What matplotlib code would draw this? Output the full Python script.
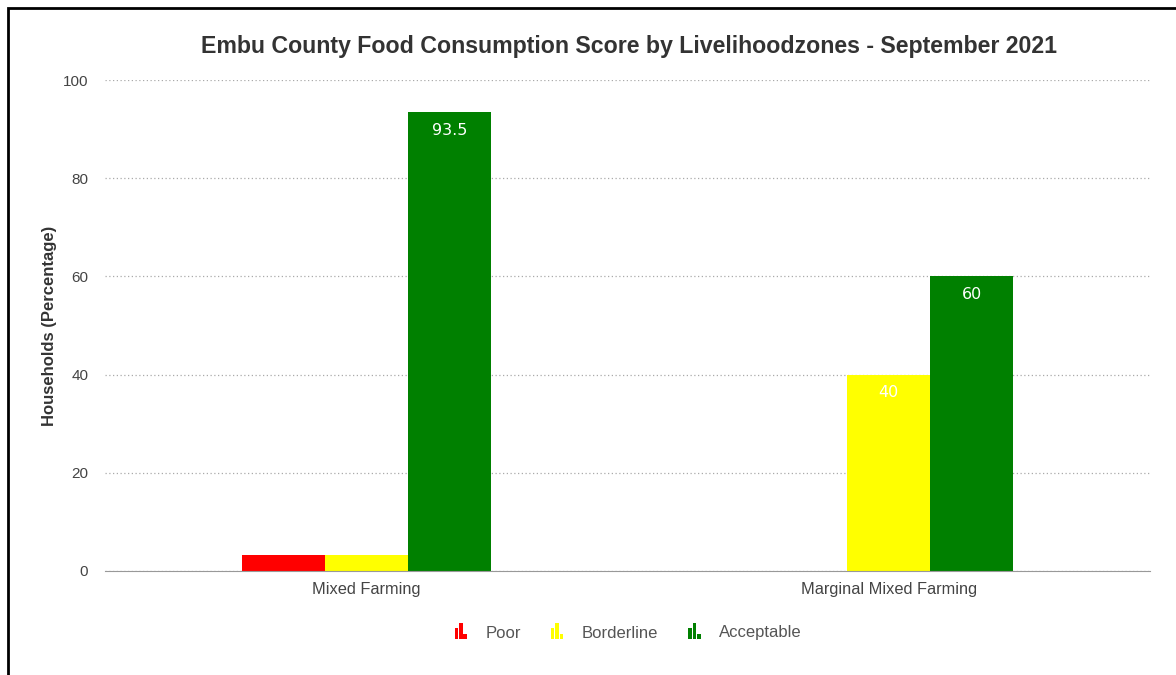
import matplotlib.pyplot as plt
import numpy as np
from matplotlib.legend_handler import HandlerBase
from matplotlib.patches import Rectangle


zones = ["Mixed Farming", "Marginal Mixed Farming"]
series = ["Poor", "Borderline", "Acceptable"]
poor = [3.25, 0]
borderline = [3.25, 40]
acceptable = [93.5, 60]
colors = ["#ff0000", "#ffff00", "#008000"]
# only these bars got a value label in the original
shown_labels = {("Acceptable", 0), ("Acceptable", 1), ("Borderline", 1)}

plt.rcParams["font.family"] = ["Liberation Sans", "DejaVu Sans"]


# small "bar chart" icon like the original legend
class BarIconHandler(HandlerBase):
    def create_artists(self, legend, orig_handle, xdescent, ydescent,
                       width, height, fontsize, trans):
        color = orig_handle.get_facecolor()
        w = width / 3.5
        heights = [0.95, 1.35, 0.4]
        artists = []
        for i, h in enumerate(heights):
            r = Rectangle((xdescent + i * w * 1.25, -ydescent - 1), w, height * h,
                          facecolor=color, edgecolor="none", transform=trans)
            artists.append(r)
        return artists


fig = plt.figure(figsize=(11.76, 6.75), dpi=100)
ax = fig.add_axes([105 / 1176, (675 - 571) / 675, 1045 / 1176, 491 / 675])

x = np.arange(len(zones))
width = 0.159
values = [poor, borderline, acceptable]
handles = []
for i, (name, vals, color) in enumerate(zip(series, values, colors)):
    bars = ax.bar(x + (i - 1) * width, vals, width, color=color, label=name, zorder=3)
    handles.append(bars[0])
    for j, b in enumerate(bars):
        if (name, j) in shown_labels:
            ax.text(b.get_x() + b.get_width() / 2, b.get_height() - 2.2,
                    f"{vals[j]:g}", ha="center", va="top", color="white",
                    fontsize=11.5, family="DejaVu Sans", zorder=4)

ax.set_xlim(-0.5, 1.5)
ax.set_ylim(0, 100)
ax.set_yticks([0, 20, 40, 60, 80, 100])
ax.set_xticks(x)
ax.set_xticklabels(zones)
ax.tick_params(axis="both", length=0, colors="#444444")
ax.tick_params(axis="y", pad=12, labelsize=11)
ax.tick_params(axis="x", pad=8, labelsize=11.8)
ax.grid(axis="y", linestyle=(0, (1, 2)), color="#aaaaaa", linewidth=0.9, zorder=0)
for s in ["top", "right", "left"]:
    ax.spines[s].set_visible(False)
ax.spines["bottom"].set_color("#999999")
ax.spines["bottom"].set_zorder(5)

ax.set_ylabel("Households (Percentage)", fontsize=12, fontweight="bold",
              color="#333333")
ax.yaxis.set_label_coords(-0.046, 0.5)
fig.text(629 / 1176, 1 - 47 / 675,
         "Embu County Food Consumption Score by Livelihoodzones - September 2021",
         ha="center", va="center", fontsize=16.7, fontweight="bold", color="#333333")

ax.legend(handles, series, loc="center", bbox_to_anchor=(628 / 1176, 1 - 633 / 675),
          bbox_transform=fig.transFigure, ncol=3, frameon=False, fontsize=12,
          handler_map={h: BarIconHandler() for h in handles},
          handlelength=0.75, handletextpad=1.1, columnspacing=1.8,
          labelcolor="#555555")

# black frame at the left and top edges of the original screenshot
fig.patches.append(Rectangle((8 / 1176, -0.1), 1.2, 1 - 8 / 675 + 0.1,
                             transform=fig.transFigure, fill=False,
                             edgecolor="black", linewidth=2))

fig.savefig("out.png", dpi=100)
